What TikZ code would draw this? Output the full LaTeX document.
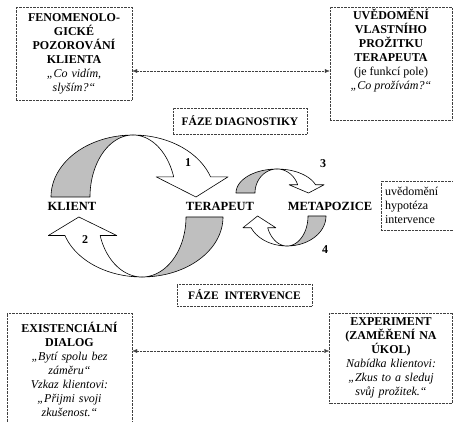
\documentclass[tikz,border=0pt]{standalone}
\usepackage{fontspec}
\setmainfont{Liberation Serif}
\usetikzlibrary{arrows.meta,positioning}
\definecolor{ribbongray}{gray}{0.75}
\tikzset{
  infobox/.style={draw=black!75, densely dotted, inner sep=2pt, align=center},
  phasebox/.style={draw=black!75, densely dotted, font=\bfseries\fontsize{11.5}{13}\selectfont},
  rolelabel/.style={font=\bfseries\fontsize{12.5}{14}\selectfont},
  steplabel/.style={font=\bfseries\fontsize{12}{14}\selectfont},
  link/.style={densely dotted, black!75, {Latex[length=5pt,width=4pt]}-{Latex[length=5pt,width=4pt]}},
  ribbon/.style={draw=black, line width=0.6pt, line join=round},
}
% Curved ribbon arrow: centre x, centre y, outer rx, inner rx, ry, end angle, rotation.
\newcommand{\ribbonarrow}[7]{%
  \begin{scope}[shift={(#1,#2)},rotate=#7]
    \filldraw[ribbon,fill=ribbongray]
      plot[domain=180:90,samples=40] ({#3*cos(\x)},{-#5*sin(\x)})
      -- plot[domain=90:180,samples=40] ({#4*cos(\x)},{-#5*sin(\x)}) -- cycle;
    \filldraw[ribbon,fill=white]
      plot[domain=90:#6,samples=40] ({#3*cos(\x)},{-#5*sin(\x)})
      -- ({#3*cos(#6)+0.45*(#3-#4)},{-#5*sin(#6)})
      -- ({(#3+#4)/2*cos(#6)+0.1*(#3-#4)},0)
      -- ({#4*cos(#6)-0.45*(#3-#4)},{-#5*sin(#6)})
      -- plot[domain=#6:90,samples=40] ({#4*cos(\x)},{-#5*sin(\x)}) -- cycle;
  \end{scope}}

\begin{document}
\begin{tikzpicture}[x=1pt,y=-1pt,font=\fontsize{12}{14}\selectfont]
\path[use as bounding box,clip] (0,0) rectangle (453,422);

% Draw the boxes.
\node[infobox,text width=112pt,minimum height=93pt] (fenom) at (74,53.5)
  {{\bfseries FENOMENOLO-\\GICKÉ\\POZOROVÁNÍ\\KLIENTA}\\
   {\itshape „Co vidím,\\slyším?“}};
\node[infobox] (uvedom) at (391,63.5)
  {\parbox[c][109pt][t]{118pt}{\centering
   {\bfseries UVĚDOMĚNÍ\\VLASTNÍHO\\PROŽITKU\\TERAPEUTA}\\
   (je funkcí pole)\\
   {\itshape „Co prožívám?“}}};
\node[phasebox,minimum width=134pt,minimum height=26pt] (diag) at (240,121) {FÁZE DIAGNOSTIKY};
\node[phasebox,minimum width=135pt,minimum height=22pt] (interv) at (244.5,295) {FÁZE\ \ INTERVENCE};
\node[infobox,align=left,text width=64pt,minimum height=49pt,inner sep=4pt] (metabox) at (417,205.5)
  {uvědomění\\hypotéza\\intervence};
\node[infobox,text width=121pt,minimum height=112pt] (exist) at (69.5,369)
  {{\bfseries EXISTENCIÁLNÍ\\DIALOG}\\
   {\itshape „Bytí spolu bez\\záměru“\\Vzkaz klientovi:\\„Přijmi svoji\\zkušenost.“}};
\node[infobox,text width=119pt,minimum height=90pt] (exper) at (391,358)
  {{\bfseries EXPERIMENT\\(ZAMĚŘENÍ NA\\ÚKOL)}\\
   {\itshape Nabídka klientovi:\\„Zkus to a sleduj\\svůj prožitek.“}};

% Draw the dotted links.
\coordinate (toplvl) at (0,71);
\coordinate (botlvl) at (0,351);
\draw[link] (fenom.east |- toplvl) -- (uvedom.west |- toplvl);
\draw[link] (exist.east |- botlvl) -- (exper.west |- botlvl);

% Draw the cycles.
\ribbonarrow{133}{197}{82}{43}{62}{19}{0}
\ribbonarrow{142}{217}{81}{44}{60}{18}{180}
\ribbonarrow{277}{193}{41}{22}{24}{20}{0}
\ribbonarrow{287}{216}{39}{21}{30}{23}{180}

% Roles and steps.
\node[rolelabel] (klient) at (72,206) {KLIENT};
\node[rolelabel] (terapeut) at (220,206) {TERAPEUT};
\node[rolelabel] (metapozice) at (330,206) {METAPOZICE};
\foreach \n/\px/\py in {1/188/163,2/85/240,3/323/164,4/325/250}
\node[steplabel] (step\n) at (\px,\py) {\n};
\end{tikzpicture}
\end{document}
